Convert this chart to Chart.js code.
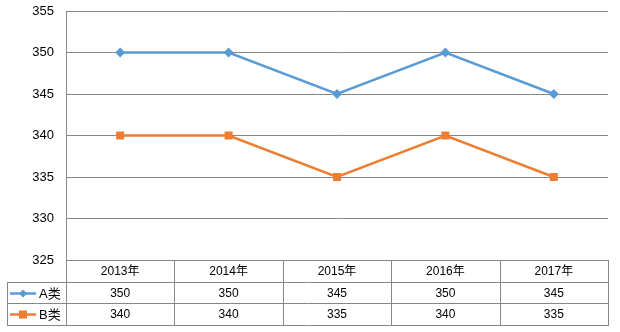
<!DOCTYPE html>
<html>
<head>
<meta charset="utf-8">
<script src="https://cdn.jsdelivr.net/npm/chart.js@4/dist/chart.umd.min.js"></script>
<style>
  html, body { margin: 0; padding: 0; background: #ffffff; }
  #wrap { width: 620px; height: 332px; position: relative; }
</style>
</head>
<body>
<div id="wrap"><canvas id="chart" width="620" height="332"></canvas></div>
<script>
// Years shown as columns of the data table
const categories = ['2013年', '2014年', '2015年', '2016年', '2017年'];
// Series names and values
const seriesNames = ['A类', 'B类'];
const seriesA = [350, 350, 345, 350, 345];
const seriesB = [340, 340, 335, 340, 335];
// Value axis ticks
const yTicks = [325, 330, 335, 340, 345, 350, 355];

const COLORS = ['#5B9BD5', '#ED7D31'];
const GRID = '#878787';
const TEXT_FONT = '12px "Liberation Sans", "Noto Sans CJK SC", sans-serif';

// Draws the data table under the plot: year header, one row per series
// with a line/marker key, and the values in each cell.
const dataTable = {
  id: 'dataTable',
  afterDraw(chart) {
    const ctx = chart.ctx;
    const area = chart.chartArea;
    const left = Math.round(area.left);
    const right = Math.round(area.right);
    const top = Math.round(area.bottom);
    const keyLeft = 7;
    const rowY = [top, top + 22, top + 43, top + 65];
    const n = categories.length;
    const colW = (right - left) / n;

    ctx.save();
    ctx.strokeStyle = GRID;
    ctx.lineWidth = 1;
    ctx.beginPath();
    // horizontal rules
    ctx.moveTo(left, rowY[0] + 0.5); ctx.lineTo(right, rowY[0] + 0.5);
    for (let r = 1; r < rowY.length; r++) {
      ctx.moveTo(keyLeft, rowY[r] + 0.5); ctx.lineTo(right, rowY[r] + 0.5);
    }
    // vertical rules
    ctx.moveTo(keyLeft + 0.5, rowY[1]); ctx.lineTo(keyLeft + 0.5, rowY[3] + 1);
    for (let c = 0; c <= n; c++) {
      const x = Math.round(left + c * colW) + 0.5;
      ctx.moveTo(x, c === 0 ? area.top : rowY[0]);
      ctx.lineTo(x, rowY[3] + 1);
    }
    ctx.stroke();

    ctx.fillStyle = '#000';
    ctx.font = TEXT_FONT;
    ctx.textAlign = 'center';
    ctx.textBaseline = 'middle';
    categories.forEach((cat, i) => {
      const cx = left + (i + 0.5) * colW;
      ctx.fillText(cat, cx, (rowY[0] + rowY[1]) / 2 + 1);
    });
    const rows = [seriesA, seriesB];
    rows.forEach((vals, r) => {
      const cy = (rowY[r + 1] + rowY[r + 2]) / 2 + 1;
      vals.forEach((v, i) => {
        const cx = left + (i + 0.5) * colW;
        ctx.fillText(String(v), cx, cy);
      });
    });

    // legend keys in the first column
    rows.forEach((vals, r) => {
      const cy = Math.round((rowY[r + 1] + rowY[r + 2]) / 2) + 0.5;
      ctx.strokeStyle = COLORS[r];
      ctx.lineWidth = 2.5;
      ctx.beginPath();
      ctx.moveTo(10, cy); ctx.lineTo(36, cy);
      ctx.stroke();
      ctx.fillStyle = COLORS[r];
      ctx.beginPath();
      if (r === 0) {
        ctx.moveTo(23, cy - 4); ctx.lineTo(27, cy); ctx.lineTo(23, cy + 4); ctx.lineTo(19, cy);
        ctx.closePath();
      } else {
        ctx.rect(19, cy - 4, 8, 8);
      }
      ctx.fill();
      ctx.fillStyle = '#000';
      ctx.textAlign = 'left';
      ctx.font = '13px "Liberation Sans", "Noto Sans CJK SC", sans-serif';
      ctx.fillText(seriesNames[r], 39, cy + 1);
      ctx.font = TEXT_FONT;
    });
    ctx.restore();
  }
};

new Chart(document.getElementById('chart'), {
  type: 'line',
  data: {
    labels: categories,
    datasets: [
      {
        label: seriesNames[0],
        data: seriesA,
        borderColor: COLORS[0],
        backgroundColor: COLORS[0],
        borderWidth: 2.5,
        pointStyle: 'rectRot',
        pointRadius: 5,
        pointBorderWidth: 0,
        tension: 0
      },
      {
        label: seriesNames[1],
        data: seriesB,
        borderColor: COLORS[1],
        backgroundColor: COLORS[1],
        borderWidth: 2.5,
        pointStyle: 'rect',
        pointRadius: 5.7,
        pointBorderWidth: 0,
        tension: 0
      }
    ]
  },
  options: {
    responsive: false,
    animation: false,
    devicePixelRatio: 1,
    layout: { padding: { left: 0, right: 12, top: 11, bottom: 72 } },
    plugins: { legend: { display: false }, tooltip: { enabled: false } },
    scales: {
      x: {
        display: false,
        offset: true
      },
      y: {
        min: yTicks[0],
        max: yTicks[yTicks.length - 1],
        afterFit(scale) {
          scale.width = 66;
          scale.paddingTop = 0;
          scale.paddingBottom = 0;
        },
        afterBuildTicks(scale) { scale.ticks = yTicks.map(v => ({ value: v })); },
        ticks: {
          padding: 12,
          color: '#000',
          font: { family: '"Liberation Sans", sans-serif', size: 13 }
        },
        grid: { color: GRID, lineWidth: 1, drawTicks: false },
        border: { display: true, color: GRID, width: 1 }
      }
    }
  },
  plugins: [dataTable]
});
</script>
</body>
</html>
